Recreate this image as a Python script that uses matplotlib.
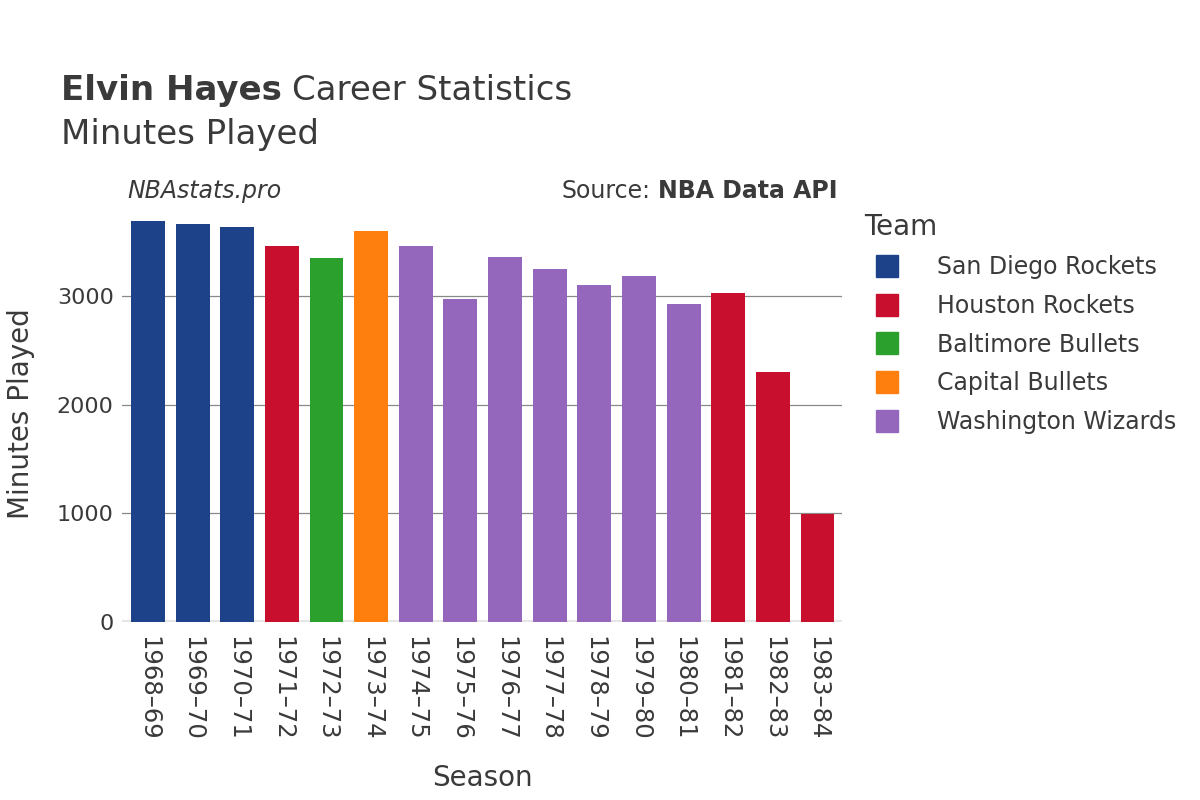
import matplotlib
matplotlib.use('Agg')
import matplotlib.pyplot as plt
from matplotlib.lines import Line2D

seasons = ['1968–69', '1969–70', '1970–71', '1971–72', '1972–73', '1973–74',
           '1974–75', '1975–76', '1976–77', '1977–78', '1978–79', '1979–80',
           '1980–81', '1981–82', '1982–83', '1983–84']
minutes = [3695, 3665, 3633, 3461, 3347, 3602, 3465, 2975, 3364, 3246,
           3105, 3183, 2931, 3032, 2302, 994]
teams = ['San Diego Rockets', 'San Diego Rockets', 'San Diego Rockets',
         'Houston Rockets', 'Baltimore Bullets', 'Capital Bullets',
         'Washington Wizards', 'Washington Wizards', 'Washington Wizards',
         'Washington Wizards', 'Washington Wizards', 'Washington Wizards',
         'Washington Wizards', 'Houston Rockets', 'Houston Rockets',
         'Houston Rockets']

team_order = ['San Diego Rockets', 'Houston Rockets', 'Baltimore Bullets',
              'Capital Bullets', 'Washington Wizards']
team_colors = {'San Diego Rockets': '#1d428a', 'Houston Rockets': '#c8102e',
               'Baltimore Bullets': '#2ca02c', 'Capital Bullets': '#ff7f0e',
               'Washington Wizards': '#9467bd'}

text_col = '#3a3a3a'

fig = plt.figure(figsize=(12, 8), dpi=100)
ax = fig.add_axes([0.1017, 0.2225, 0.6, 0.52])

x = range(len(seasons))
ax.bar(x, minutes, width=0.76, color=[team_colors[t] for t in teams], zorder=3)

ax.set_xlim(-0.58, len(seasons) - 0.45)
ax.set_ylim(0, 3830)
ax.set_yticks([0, 1000, 2000, 3000])
ax.set_xticks(list(x))
ax.set_xticklabels(seasons, rotation=270, fontsize=17.5, color=text_col)
ax.tick_params(axis='y', labelsize=16, labelcolor=text_col, length=0, pad=6)
ax.tick_params(axis='x', length=0, pad=10)

ax.grid(axis='y', color='#888888', linewidth=0.9, zorder=0)
for s in ax.spines.values():
    s.set_visible(False)
ax.axhline(0, color='#e6e6e6', linewidth=3, zorder=2)

ax.set_xlabel('Season', fontsize=20, color=text_col, labelpad=17)
ax.set_ylabel('Minutes Played', fontsize=20, color=text_col, labelpad=16)

t1 = fig.text(0.051, 0.875, 'Elvin Hayes', fontsize=24.5, color=text_col,
              va='baseline', fontweight='bold')
fig.canvas.draw()
bb = t1.get_window_extent()
fig.text(bb.x1 / 1200 + 0.008, 0.875, 'Career Statistics', fontsize=24.5,
         color=text_col, va='baseline')
fig.text(0.051, 0.82, 'Minutes Played', fontsize=24.5, color=text_col,
         va='baseline')

fig.text(0.106, 0.752, 'NBAstats.pro', fontsize=17, color=text_col,
         style='italic', va='baseline')
src = fig.text(0.698, 0.752, 'NBA Data API', fontsize=17, color=text_col,
               va='baseline', ha='right', fontweight='bold')
fig.canvas.draw()
sb = src.get_window_extent()
fig.text(sb.x0 / 1200 - 0.006, 0.752, 'Source:', fontsize=17, color=text_col,
         va='baseline', ha='right')

handles = [Line2D([0], [0], marker='s', linestyle='', markersize=16,
                  markerfacecolor=team_colors[t], markeredgecolor=team_colors[t])
           for t in team_order]
leg = fig.legend(handles, team_order, loc='upper left',
                 bbox_to_anchor=(0.712, 0.746), frameon=False, fontsize=17,
                 title='Team', title_fontsize=20, labelspacing=0.62,
                 handletextpad=1.1, borderaxespad=0)
leg._legend_box.align = 'left'
for t in leg.get_texts():
    t.set_color(text_col)
leg.get_title().set_color(text_col)

fig.savefig('out.png', dpi=100)
